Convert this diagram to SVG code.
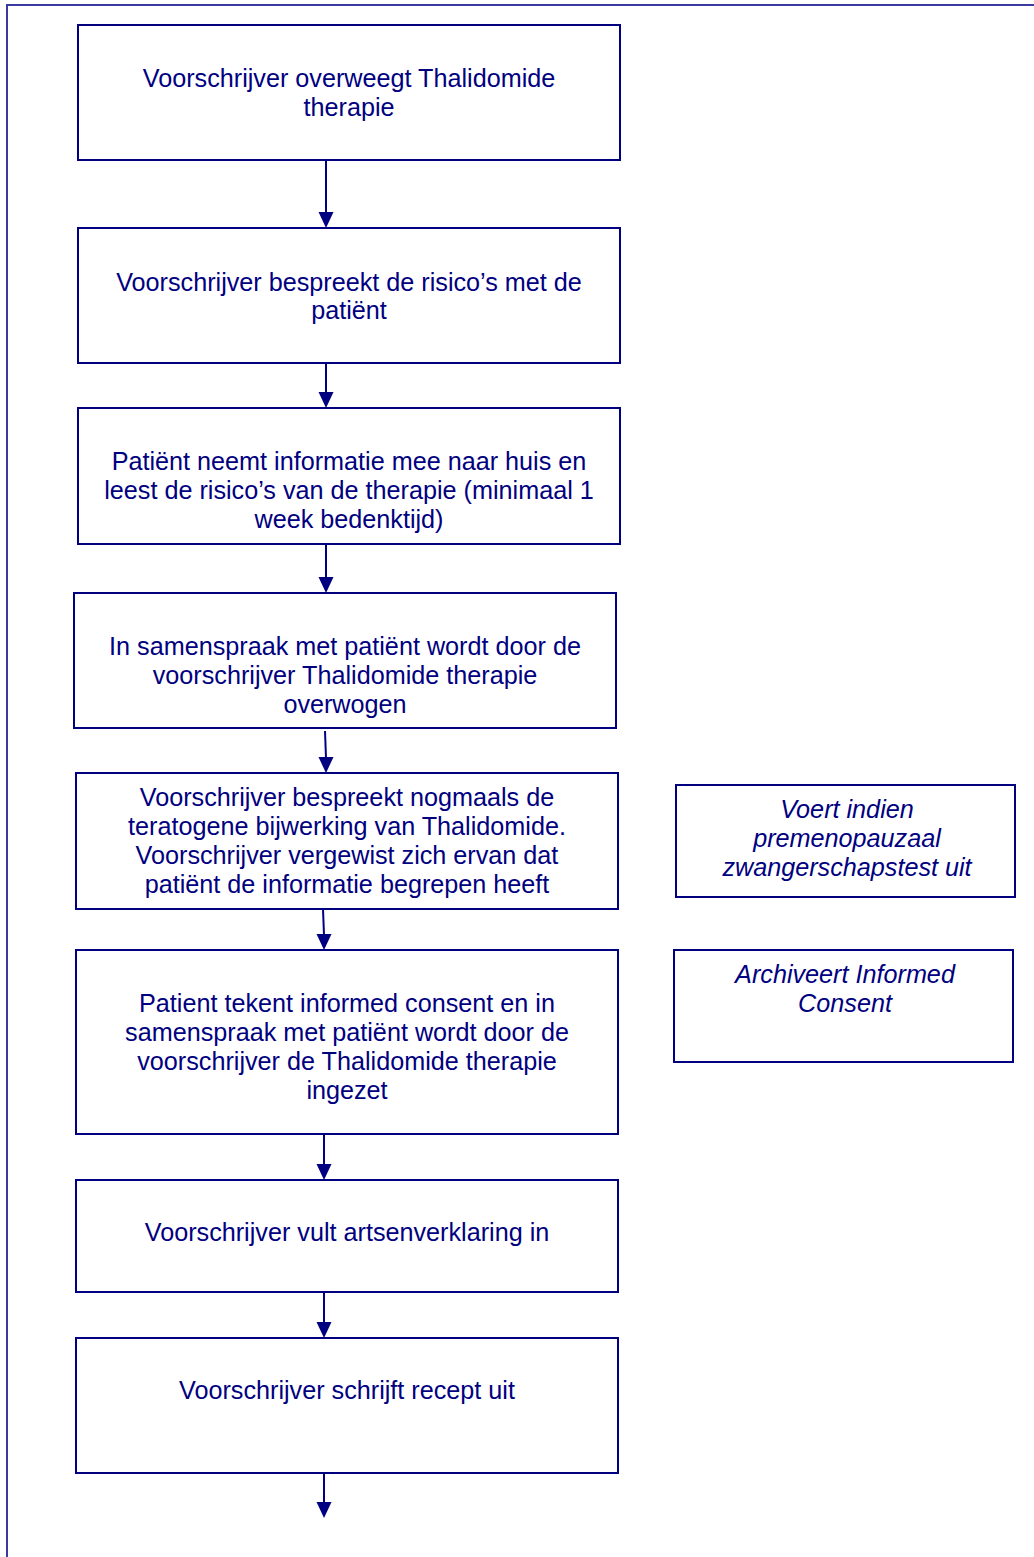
<svg xmlns="http://www.w3.org/2000/svg" width="1034" height="1557" viewBox="0 0 1034 1557">
<style>
.box{fill:#ffffff;stroke:#000080;stroke-width:2}
.t{font-family:"Liberation Sans",Arial,sans-serif;font-size:25.2px;fill:#000080;text-anchor:middle}
.i{font-style:italic}
.c{stroke:#000080;stroke-width:2;fill:none}
.frame{stroke:#3a3aa0;stroke-width:2;fill:none}
</style>
<rect width="1034" height="1557" fill="#ffffff"/>
<path class="frame" d="M7,1557 L7,5 L1034,5"/>
<g id="connectors">
<line class="c" x1="326" y1="160" x2="326" y2="213"/>
<path d="M318.5,212 L333.5,212 L326,228 Z" fill="#000080"/>
<line class="c" x1="326" y1="363" x2="326" y2="393"/>
<path d="M318.5,392 L333.5,392 L326,408 Z" fill="#000080"/>
<line class="c" x1="326" y1="544" x2="326" y2="578"/>
<path d="M318.5,577 L333.5,577 L326,593 Z" fill="#000080"/>
<line class="c" x1="325" y1="731" x2="326" y2="758"/>
<path d="M318.5,757 L333.5,757 L326,773 Z" fill="#000080"/>
<line class="c" x1="323" y1="909" x2="324" y2="935"/>
<path d="M316.5,934 L331.5,934 L324,950 Z" fill="#000080"/>
<line class="c" x1="324" y1="1134" x2="324" y2="1165"/>
<path d="M316.5,1164 L331.5,1164 L324,1180 Z" fill="#000080"/>
<line class="c" x1="324" y1="1292" x2="324" y2="1323"/>
<path d="M316.5,1322 L331.5,1322 L324,1338 Z" fill="#000080"/>
<line class="c" x1="324" y1="1474" x2="324" y2="1503"/>
<path d="M316.5,1502 L331.5,1502 L324,1518 Z" fill="#000080"/>
</g>
<g id="n1">
<rect class="box" x="78" y="25" width="542" height="135"/>
<text class="t" x="349" y="87">Voorschrijver overweegt Thalidomide</text>
<text class="t" x="349" y="116">therapie</text>
</g>
<g id="n2">
<rect class="box" x="78" y="228" width="542" height="135"/>
<text class="t" x="349" y="291">Voorschrijver bespreekt de risico’s met de</text>
<text class="t" x="349" y="319">patiënt</text>
</g>
<g id="n3">
<rect class="box" x="78" y="408" width="542" height="136"/>
<text class="t" x="349" y="470">Patiënt neemt informatie mee naar huis en</text>
<text class="t" x="349" y="499">leest de risico’s van de therapie (minimaal 1</text>
<text class="t" x="349" y="528">week bedenktijd)</text>
</g>
<g id="n4">
<rect class="box" x="74" y="593" width="542" height="135"/>
<text class="t" x="345" y="655">In samenspraak met patiënt wordt door de</text>
<text class="t" x="345" y="684">voorschrijver Thalidomide therapie</text>
<text class="t" x="345" y="713">overwogen</text>
</g>
<g id="n5">
<rect class="box" x="76" y="773" width="542" height="136"/>
<text class="t" x="347" y="806">Voorschrijver bespreekt nogmaals de</text>
<text class="t" x="347" y="835">teratogene bijwerking van Thalidomide.</text>
<text class="t" x="347" y="864">Voorschrijver vergewist zich ervan dat</text>
<text class="t" x="347" y="893">patiënt de informatie begrepen heeft</text>
</g>
<g id="n6">
<rect class="box" x="76" y="950" width="542" height="184"/>
<text class="t" x="347" y="1012">Patient tekent informed consent en in</text>
<text class="t" x="347" y="1041">samenspraak met patiënt wordt door de</text>
<text class="t" x="347" y="1070">voorschrijver de Thalidomide therapie</text>
<text class="t" x="347" y="1099">ingezet</text>
</g>
<g id="n7">
<rect class="box" x="76" y="1180" width="542" height="112"/>
<text class="t" x="347" y="1241">Voorschrijver vult artsenverklaring in</text>
</g>
<g id="n8">
<rect class="box" x="76" y="1338" width="542" height="135"/>
<text class="t" x="347" y="1399">Voorschrijver schrijft recept uit</text>
</g>
<g id="s1">
<rect class="box" x="676" y="785" width="339" height="112"/>
<text class="t i" x="847" y="818">Voert indien</text>
<text class="t i" x="847" y="847">premenopauzaal</text>
<text class="t i" x="847" y="876">zwangerschapstest uit</text>
</g>
<g id="s2">
<rect class="box" x="674" y="950" width="339" height="112"/>
<text class="t i" x="845" y="983">Archiveert Informed</text>
<text class="t i" x="845" y="1012">Consent</text>
</g>
</svg>
